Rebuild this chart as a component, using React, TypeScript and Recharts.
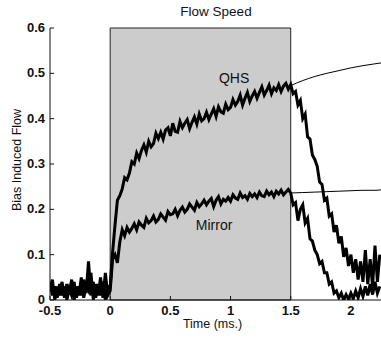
import React from 'react'
import {
  LineChart,
  Line,
  XAxis,
  YAxis,
  ReferenceArea,
  ReferenceDot,
  Label,
} from 'recharts'

// sampling grid of the traces (ms)
const T_START = -0.5
const T_STEP = 0.02

// QHS trace: baseline, bias on (0..1.5 ms), decay after bias off
const qhsBaseline = [
  0.04, 0.01, 0.03, 0.005, 0.035, 0.01, 0.03, 0.0, 0.025, 0.01, 0.04, 0.005, 0.03,
  0.01, 0.045, 0.015, 0.085, 0.01, 0.04, 0.005, 0.035, 0.01, 0.04, 0.0, 0.03,
]
const qhsBiasOn = [
  0.03, 0.105, 0.165, 0.22, 0.23, 0.245, 0.27, 0.265, 0.28, 0.305,
  0.3, 0.324, 0.312, 0.33, 0.342, 0.326, 0.35, 0.338, 0.345, 0.368,
  0.356, 0.37, 0.355, 0.375, 0.38, 0.362, 0.39, 0.372, 0.37, 0.394,
  0.38, 0.39, 0.398, 0.378, 0.392, 0.404, 0.388, 0.41, 0.395, 0.4,
  0.414, 0.398, 0.41, 0.422, 0.405, 0.426, 0.415, 0.412, 0.432, 0.42,
  0.425, 0.442, 0.43, 0.438, 0.452, 0.43, 0.445, 0.458, 0.438, 0.45,
  0.46, 0.445, 0.458, 0.47, 0.452, 0.462, 0.474, 0.455, 0.468, 0.462,
  0.475, 0.46, 0.472, 0.478, 0.465, 0.475,
]
const qhsDecay = [
  0.455, 0.46, 0.43, 0.44, 0.4, 0.41, 0.36, 0.355, 0.32, 0.31,
  0.295, 0.26, 0.255, 0.22, 0.225, 0.185, 0.19, 0.15, 0.165, 0.125,
  0.14, 0.095, 0.115, 0.075, 0.1, 0.06, 0.09, 0.045, 0.085, 0.04,
  0.11, 0.035, 0.09, 0.03, 0.12, 0.04, 0.1,
]

// Mirror trace
const mirrorBaseline = [
  0.02, 0.045, 0.0, 0.03, 0.01, 0.04, 0.005, 0.035, 0.015, 0.045, 0.0, 0.03, 0.01,
  0.05, 0.005, 0.03, 0.02, 0.06, 0.0, 0.035, 0.01, 0.05, 0.005, 0.06, 0.01,
]
const mirrorBiasOn = [
  0.02, 0.09, 0.1, 0.082, 0.128, 0.155, 0.142, 0.16, 0.15, 0.158,
  0.168, 0.155, 0.172, 0.165, 0.16, 0.18, 0.17, 0.175, 0.185, 0.172,
  0.178, 0.19, 0.183, 0.176, 0.195, 0.188, 0.19, 0.2, 0.186, 0.198,
  0.205, 0.194, 0.2, 0.212, 0.205, 0.198, 0.215, 0.206, 0.212, 0.22,
  0.21, 0.218, 0.224, 0.206, 0.22, 0.228, 0.212, 0.222, 0.218, 0.226,
  0.218, 0.232, 0.225, 0.222, 0.236, 0.226, 0.23, 0.222, 0.235, 0.228,
  0.234, 0.226, 0.238, 0.23, 0.228, 0.24, 0.232, 0.238, 0.228, 0.24,
  0.234, 0.242, 0.232, 0.238, 0.244, 0.236,
]
const mirrorDecay = [
  0.21, 0.215, 0.175, 0.2, 0.21, 0.17, 0.18, 0.135, 0.13, 0.11,
  0.1, 0.08, 0.085, 0.06, 0.06, 0.035, 0.04, 0.015, 0.02, 0.005,
  0.015, 0.0, 0.012, 0.002, 0.015, 0.003, 0.02, 0.005, 0.025, 0.008,
  0.03, 0.01, 0.035, 0.012, 0.04, 0.015, 0.03,
]

// extrapolated fits after bias turn-off
const fitTimes = [1.5, 1.6, 1.7, 1.8, 1.9, 2.0, 2.1, 2.2, 2.25]
const qhsFitValues = [0.473, 0.484, 0.493, 0.5, 0.506, 0.512, 0.517, 0.521, 0.523]
const mirrorFitValues = [0.236, 0.237, 0.238, 0.239, 0.24, 0.241, 0.242, 0.242, 0.243]

const xTicks = [-0.5, 0, 0.5, 1, 1.5, 2]
const yTicks = [0, 0.1, 0.2, 0.3, 0.4, 0.5, 0.6]

const qhs = [...qhsBaseline, ...qhsBiasOn, ...qhsDecay]
const mirror = [...mirrorBaseline, ...mirrorBiasOn, ...mirrorDecay]

const traceData = qhs.map((v, i) => ({
  t: Math.round((T_START + i * T_STEP) * 100) / 100,
  qhs: v,
  mirror: mirror[i],
}))
const qhsFit = fitTimes.map((t, i) => ({ t, fit: qhsFitValues[i] }))
const mirrorFit = fitTimes.map((t, i) => ({ t, fit: mirrorFitValues[i] }))

const FONT = '"Liberation Sans", Arial, Helvetica, sans-serif'
const INK = '#111'

const BottomTick = ({ x, y, payload }: any) => (
  <g>
    <line x1={x} x2={x} y1={y} y2={y - 4} stroke={INK} />
    <text x={x} y={y + 15} textAnchor="middle" fontFamily={FONT} fontSize={13} fontWeight="bold" fill={INK}>
      {String(payload.value)}
    </text>
  </g>
)

const LeftTick = ({ x, y, payload }: any) => (
  <g>
    <line x1={x} x2={x + 4} y1={y} y2={y} stroke={INK} />
    <text x={x - 5} y={y + 4} textAnchor="end" fontFamily={FONT} fontSize={13} fontWeight="bold" fill={INK}>
      {String(payload.value)}
    </text>
  </g>
)

const TopTick = ({ x, y }: any) => <line x1={x} x2={x} y1={y} y2={y + 4} stroke={INK} />
const RightTick = ({ x, y }: any) => <line x1={x - 4} x2={x} y1={y} y2={y} stroke={INK} />

export default function App() {
  return (
    <div style={{ position: 'absolute', left: 0, top: 0, width: 381, height: 341, background: '#fff' }}>
      <div
        style={{
          position: 'absolute',
          top: 4,
          left: 116,
          width: 200,
          textAlign: 'center',
          fontFamily: FONT,
          fontSize: 13.5,
          lineHeight: '16px',
          color: INK,
        }}
      >
        Flow Speed
      </div>
      <LineChart width={381} height={341} margin={{ top: 28, right: 0, bottom: 0, left: 0 }}>
        <XAxis
          dataKey="t"
          type="number"
          domain={[-0.5, 2.25]}
          ticks={xTicks}
          allowDataOverflow
          height={41}
          tickSize={0}
          tickMargin={0}
          tickLine={false}
          tick={<BottomTick />}
          axisLine={{ stroke: INK }}
        >
          <Label
            content={({ viewBox }: any) => {
              const vb = viewBox || { x: 50, y: 300, width: 331 }
              return (
                <text x={vb.x + vb.width / 2 - 3} y={vb.y + 28} textAnchor="middle" fontFamily={FONT} fontSize={12.5} fill={INK}>
                  Time (ms.)
                </text>
              )
            }}
          />
        </XAxis>
        <XAxis
          xAxisId="top"
          orientation="top"
          dataKey="t"
          type="number"
          domain={[-0.5, 2.25]}
          ticks={xTicks}
          allowDataOverflow
          height={0}
          tickSize={0}
          tickMargin={0}
          tickLine={false}
          tick={<TopTick />}
          axisLine={{ stroke: INK }}
        />
        <YAxis
          type="number"
          domain={[0, 0.6]}
          ticks={yTicks}
          allowDataOverflow
          width={50}
          tickSize={0}
          tickMargin={0}
          tickLine={false}
          tick={<LeftTick />}
          axisLine={{ stroke: INK }}
        >
          <Label
            content={({ viewBox }: any) => {
              const vb = viewBox || { x: 0, y: 28, height: 272 }
              const cx = vb.x + 17
              const cy = vb.y + vb.height / 2 - 4
              return (
                <text
                  x={cx}
                  y={cy}
                  transform={`rotate(-90, ${cx}, ${cy})`}
                  textAnchor="middle"
                  dominantBaseline="central"
                  fontFamily={FONT}
                  fontSize={12.5}
                  fill={INK}
                >
                  Bias Induced Flow
                </text>
              )
            }}
          />
        </YAxis>
        <YAxis
          yAxisId="right"
          orientation="right"
          type="number"
          domain={[0, 0.6]}
          ticks={yTicks}
          allowDataOverflow
          width={0}
          tickSize={0}
          tickMargin={0}
          tickLine={false}
          tick={<RightTick />}
          axisLine={{ stroke: INK }}
        />
        <ReferenceArea x1={0} x2={1.5} fill="#cccccc" fillOpacity={1} stroke="#222" strokeWidth={1} />
        <Line
          data={traceData}
          dataKey="qhs"
          type="linear"
          stroke="#000"
          strokeWidth={3}
          strokeLinejoin="miter"
          dot={false}
          isAnimationActive={false}
        />
        <Line
          data={traceData}
          dataKey="mirror"
          type="linear"
          stroke="#000"
          strokeWidth={3}
          strokeLinejoin="miter"
          dot={false}
          isAnimationActive={false}
        />
        <Line data={qhsFit} dataKey="fit" type="monotone" stroke="#000" strokeWidth={1} dot={false} isAnimationActive={false} />
        <Line data={mirrorFit} dataKey="fit" type="monotone" stroke="#000" strokeWidth={1} dot={false} isAnimationActive={false} />
        <ReferenceDot
          x={1.03}
          y={0.489}
          r={1}
          fill="none"
          stroke="none"
          label={{ value: 'QHS', position: 'center', fontFamily: FONT, fontSize: 14, fill: INK }}
        />
        <ReferenceDot
          x={0.863}
          y={0.166}
          r={1}
          fill="none"
          stroke="none"
          label={{ value: 'Mirror', position: 'center', fontFamily: FONT, fontSize: 14, fill: INK }}
        />
      </LineChart>
    </div>
  )
}
